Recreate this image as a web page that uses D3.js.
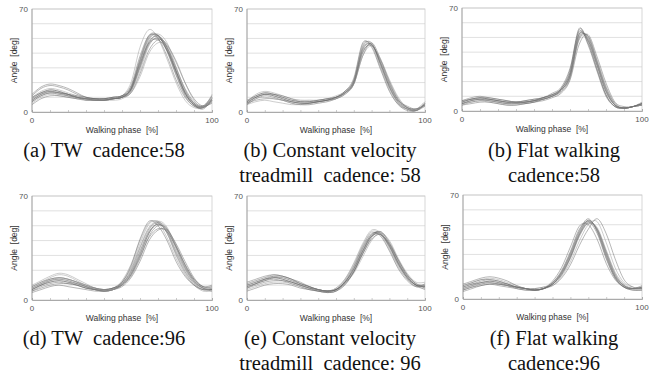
<!DOCTYPE html>
<html>
<head>
<meta charset="utf-8">
<script src="https://cdn.jsdelivr.net/npm/d3@7"></script>
<style>
  html, body { margin: 0; padding: 0; background: #fff; }
  svg { display: block; }
</style>
</head>
<body>
<div id="chart"></div>
<script>
// Walking phase samples [%]
const phase = [0, 5, 10, 15, 20, 25, 30, 35, 40, 45, 50, 55, 60, 65, 70, 75, 80, 85, 90, 95, 100];
const yTicks = [0, 70];
const xTicks = [0, 100];

// Knee angle [deg], one row per stride
const twCad58 = [
  [8, 12, 14, 13, 12, 10, 9, 8, 8, 9, 10, 15, 32, 48, 51, 42, 27, 13, 5, 3, 8],
  [9, 13, 15, 14, 12, 10, 9, 8, 8, 9, 11, 18, 38, 52, 50, 38, 22, 10, 4, 3, 9],
  [6, 10, 12, 11, 10, 9, 8, 8, 8, 9, 10, 14, 28, 45, 51, 45, 30, 15, 6, 3, 7],
  [11, 16, 18, 17, 15, 12, 10, 9, 9, 10, 11, 16, 34, 50, 52, 42, 26, 12, 5, 4, 10],
  [7, 11, 13, 12, 11, 10, 9, 9, 9, 10, 11, 15, 30, 46, 50, 44, 30, 16, 7, 4, 8],
  [10, 14, 16, 15, 13, 11, 9, 8, 8, 9, 11, 20, 44, 56, 50, 36, 20, 8, 3, 3, 10],
  [5, 9, 11, 11, 10, 9, 9, 9, 9, 9, 10, 13, 26, 42, 49, 46, 34, 20, 9, 4, 6],
  [8, 12, 14, 13, 11, 10, 8, 8, 8, 9, 10, 16, 35, 51, 52, 43, 28, 13, 5, 2, 8],
  [9, 13, 14, 13, 12, 10, 9, 8, 8, 9, 10, 13, 24, 40, 47, 45, 35, 20, 8, 3, 12],
  [12, 17, 19, 18, 16, 13, 10, 9, 8, 9, 10, 15, 31, 47, 52, 44, 28, 13, 5, 3, 9],
  [7, 11, 13, 13, 12, 11, 10, 9, 9, 10, 11, 17, 36, 52, 52, 41, 25, 11, 4, 3, 7],
  [8, 12, 13, 12, 11, 9, 8, 8, 8, 8, 9, 14, 31, 49, 53, 47, 31, 15, 6, 3, 9],
  [10, 13, 15, 14, 12, 10, 9, 8, 8, 9, 10, 16, 33, 47, 49, 42, 28, 14, 6, 4, 11]
];

const treadCad58 = [
  [6, 10, 12, 11, 9, 7, 6, 6, 7, 8, 10, 13, 20, 42, 46, 33, 18, 7, 2, 1, 5],
  [5, 9, 11, 10, 8, 6, 5, 6, 7, 8, 9, 13, 19, 38, 47, 36, 21, 9, 3, 1, 4],
  [7, 12, 14, 13, 11, 9, 7, 7, 8, 9, 11, 14, 22, 46, 45, 30, 15, 5, 2, 1, 6],
  [6, 8, 9, 9, 8, 7, 6, 6, 7, 8, 9, 12, 19, 40, 46, 34, 19, 8, 3, 2, 5],
  [8, 11, 13, 12, 10, 8, 7, 7, 8, 9, 10, 14, 23, 47, 44, 29, 14, 5, 1, 1, 6],
  [5, 7, 8, 7, 6, 5, 5, 5, 6, 7, 9, 12, 19, 38, 45, 36, 22, 10, 3, 2, 4],
  [7, 11, 13, 12, 10, 8, 7, 7, 7, 8, 10, 13, 21, 44, 47, 32, 17, 6, 2, 1, 5],
  [6, 10, 12, 12, 11, 9, 8, 8, 8, 9, 10, 13, 20, 41, 45, 35, 20, 8, 4, 2, 5],
  [5, 9, 10, 9, 8, 6, 5, 5, 6, 7, 9, 13, 21, 45, 46, 31, 16, 6, 2, 1, 6],
  [7, 10, 12, 11, 9, 7, 6, 6, 7, 8, 10, 14, 21, 43, 46, 33, 17, 7, 3, 2, 7]
];

const flatCad58 = [
  [5, 7, 8, 7, 6, 5, 5, 6, 7, 8, 10, 14, 24, 52, 49, 32, 14, 4, 2, 3, 4],
  [6, 8, 9, 8, 7, 6, 6, 6, 7, 9, 11, 15, 26, 55, 47, 29, 11, 3, 2, 3, 5],
  [4, 6, 7, 6, 5, 4, 4, 5, 6, 8, 10, 13, 22, 48, 51, 35, 17, 5, 2, 3, 4],
  [7, 9, 10, 9, 8, 7, 6, 7, 8, 9, 11, 15, 28, 56, 45, 27, 10, 3, 2, 3, 5],
  [5, 6, 7, 7, 6, 5, 5, 5, 6, 8, 10, 14, 23, 50, 50, 33, 15, 4, 2, 3, 5],
  [6, 8, 8, 8, 7, 6, 5, 6, 7, 9, 11, 14, 25, 53, 48, 31, 13, 4, 2, 3, 4],
  [4, 5, 6, 6, 5, 4, 4, 5, 6, 7, 9, 12, 21, 45, 52, 37, 19, 6, 3, 3, 4],
  [6, 8, 9, 8, 7, 6, 6, 7, 8, 9, 12, 16, 29, 54, 46, 28, 11, 3, 2, 3, 6],
  [5, 7, 8, 7, 6, 5, 5, 6, 7, 8, 10, 13, 23, 51, 49, 32, 14, 4, 2, 3, 4],
  [7, 8, 9, 9, 8, 7, 6, 6, 7, 9, 11, 15, 26, 52, 48, 31, 13, 4, 2, 3, 5],
  [5, 7, 8, 8, 7, 6, 6, 6, 7, 8, 10, 14, 24, 49, 51, 34, 16, 5, 2, 3, 5]
];

const twCad96 = [
  [7, 10, 13, 14, 13, 11, 9, 7, 6, 7, 11, 19, 33, 46, 51, 46, 33, 21, 12, 8, 7],
  [5, 7, 9, 10, 9, 8, 7, 6, 6, 7, 10, 16, 28, 43, 50, 48, 37, 24, 14, 9, 8],
  [9, 12, 15, 17, 16, 13, 10, 8, 7, 8, 13, 24, 40, 52, 52, 42, 28, 17, 10, 6, 6],
  [8, 11, 14, 15, 14, 12, 9, 7, 6, 7, 11, 20, 35, 48, 52, 45, 31, 19, 11, 7, 7],
  [6, 9, 11, 12, 11, 10, 8, 7, 6, 7, 9, 15, 26, 40, 47, 47, 38, 26, 15, 9, 9],
  [10, 13, 16, 18, 17, 14, 11, 8, 7, 8, 12, 22, 38, 51, 53, 45, 30, 18, 10, 7, 8],
  [7, 10, 12, 13, 12, 11, 9, 8, 7, 8, 11, 18, 31, 45, 51, 47, 35, 22, 13, 8, 7],
  [6, 8, 10, 11, 11, 10, 8, 7, 6, 7, 10, 17, 30, 45, 52, 48, 36, 23, 13, 8, 6],
  [8, 11, 13, 14, 13, 11, 9, 7, 6, 7, 12, 21, 36, 49, 53, 46, 32, 20, 11, 7, 8],
  [9, 12, 14, 15, 14, 12, 10, 8, 7, 8, 10, 17, 29, 42, 48, 46, 36, 24, 14, 9, 10],
  [7, 10, 12, 13, 12, 10, 8, 7, 7, 8, 12, 23, 41, 53, 50, 40, 26, 16, 10, 7, 7],
  [8, 11, 13, 15, 14, 12, 10, 8, 7, 7, 10, 18, 32, 47, 53, 49, 35, 22, 12, 8, 9]
];

const treadCad96 = [
  [10, 12, 14, 15, 14, 12, 10, 8, 7, 6, 7, 12, 21, 34, 44, 45, 36, 24, 15, 10, 9],
  [8, 10, 12, 13, 13, 11, 9, 7, 6, 5, 6, 11, 19, 31, 42, 46, 39, 27, 17, 11, 10],
  [11, 13, 15, 17, 16, 14, 11, 9, 7, 6, 8, 14, 24, 37, 46, 44, 34, 22, 14, 9, 8],
  [9, 11, 13, 14, 13, 12, 10, 8, 7, 6, 7, 12, 20, 33, 43, 44, 37, 25, 16, 10, 10],
  [12, 14, 16, 17, 16, 14, 12, 9, 7, 6, 7, 13, 23, 36, 45, 43, 33, 21, 13, 9, 11],
  [7, 9, 11, 12, 12, 11, 9, 7, 6, 5, 6, 11, 18, 29, 40, 45, 40, 28, 18, 12, 12],
  [10, 12, 14, 15, 15, 13, 11, 9, 7, 6, 7, 12, 22, 35, 44, 45, 37, 25, 15, 10, 9],
  [6, 8, 10, 11, 11, 10, 8, 7, 6, 5, 6, 10, 19, 32, 43, 46, 38, 26, 16, 10, 7],
  [11, 13, 15, 16, 15, 13, 10, 8, 7, 6, 8, 14, 25, 38, 47, 45, 35, 23, 14, 9, 10],
  [9, 11, 13, 15, 14, 12, 10, 8, 6, 6, 7, 12, 21, 33, 43, 44, 36, 24, 15, 10, 9],
  [8, 11, 14, 16, 16, 14, 11, 9, 7, 6, 7, 11, 19, 31, 41, 44, 38, 27, 17, 11, 8]
];

const flatCad96 = [
  [7, 9, 11, 12, 11, 9, 8, 7, 6, 7, 10, 17, 28, 43, 52, 47, 31, 16, 9, 7, 7],
  [8, 10, 12, 13, 12, 10, 8, 7, 6, 7, 11, 18, 30, 45, 53, 46, 29, 15, 9, 7, 8],
  [9, 11, 13, 14, 13, 11, 9, 7, 6, 7, 10, 16, 27, 42, 51, 48, 33, 18, 10, 7, 7],
  [6, 8, 10, 11, 10, 9, 7, 6, 6, 7, 10, 17, 29, 44, 53, 46, 30, 15, 8, 6, 6],
  [10, 12, 14, 15, 14, 12, 9, 7, 6, 7, 11, 19, 32, 47, 52, 44, 27, 14, 8, 7, 8],
  [7, 9, 11, 11, 10, 9, 8, 7, 6, 7, 9, 15, 25, 39, 50, 52, 38, 21, 11, 8, 7],
  [8, 10, 11, 12, 11, 10, 8, 7, 6, 7, 10, 16, 28, 43, 51, 47, 32, 17, 9, 7, 8],
  [5, 7, 9, 10, 9, 8, 7, 6, 6, 7, 10, 18, 31, 46, 54, 45, 28, 14, 8, 6, 6],
  [7, 9, 10, 11, 10, 9, 8, 7, 7, 8, 11, 18, 30, 44, 52, 47, 31, 16, 9, 7, 7],
  [6, 8, 9, 10, 10, 9, 8, 7, 7, 8, 9, 14, 23, 36, 47, 54, 44, 27, 13, 8, 7],
  [9, 11, 13, 13, 12, 10, 8, 7, 6, 7, 12, 21, 35, 49, 50, 40, 24, 13, 8, 7, 9]
];

// caption lines
const captionsTop = [
  ["(a) TW  cadence:58"],
  ["(b) Constant velocity", "treadmill  cadence: 58"],
  ["(b) Flat walking", "cadence:58"]
];
const captionsBottom = [
  ["(d) TW  cadence:96"],
  ["(e) Constant velocity", "treadmill  cadence: 96"],
  ["(f) Flat walking", "cadence:96"]
];

const W = 654, H = 375;

const svg = d3.select("#chart").append("svg")
  .attr("width", W)
  .attr("height", H);

// plot boxes [left, top, right, bottom] in px
const panels = [
  { data: twCad58, box: [32, 9, 212, 112], cap: captionsTop[0], capX: 104, capY: 157 },
  { data: treadCad58, box: [247, 9, 425, 112], cap: captionsTop[1], capX: 330, capY: 157 },
  { data: flatCad58, box: [462, 8, 642, 111], cap: captionsTop[2], capX: 554, capY: 157 },
  { data: twCad96, box: [32, 196, 212, 300], cap: captionsBottom[0], capX: 104, capY: 345 },
  { data: treadCad96, box: [247, 196, 425, 300], cap: captionsBottom[1], capX: 330, capY: 345 },
  { data: flatCad96, box: [463, 195, 642, 299], cap: captionsBottom[2], capX: 554, capY: 345 }
];

panels.forEach(p => {
  const [x0, y0, x1, y1] = p.box;
  const x = d3.scaleLinear().domain([0, 100]).range([x0, x1]);
  const y = d3.scaleLinear().domain([0, 70]).range([y1, y0]);
  const g = svg.append("g");

  // gridlines every 10 deg
  g.selectAll(".grid")
    .data(d3.range(10, 80, 10))
    .enter().append("line")
    .attr("x1", x0).attr("x2", x1)
    .attr("y1", d => y(d)).attr("y2", d => y(d))
    .style("stroke", "#d8d8d8")
    .style("stroke-width", 0.8);

  // frame
  g.append("rect")
    .attr("x", x0).attr("y", y0)
    .attr("width", x1 - x0).attr("height", y1 - y0)
    .style("fill", "none")
    .style("stroke", "#cccccc")
    .style("stroke-width", 0.8);

  // bottom axis with small ticks
  g.append("g")
    .attr("transform", "translate(0," + y1 + ")")
    .call(d3.axisTop(x).tickValues(d3.range(0, 101, 10)).tickSize(2).tickFormat(""))
    .call(a => a.select(".domain").style("stroke", "#999").style("stroke-width", 0.8))
    .call(a => a.selectAll("line").style("stroke", "#aaa").style("stroke-width", 0.6));

  // left axis line
  g.append("line")
    .attr("x1", x0).attr("x2", x0).attr("y1", y0).attr("y2", y1)
    .style("stroke", "#999").style("stroke-width", 0.8);

  // strides
  const line = d3.line()
    .x((d, i) => x(phase[i]))
    .y(d => y(d))
    .curve(d3.curveCatmullRom.alpha(0));

  g.selectAll(".stride")
    .data(p.data)
    .enter().append("path")
    .attr("d", line)
    .style("fill", "none")
    .style("stroke", (d, i) => i % 3 === 2 ? "#999" : "#6a6a6a")
    .style("stroke-opacity", 0.65)
    .style("stroke-width", 0.75);

  // tick labels
  g.selectAll(".ylab")
    .data(yTicks)
    .enter().append("text")
    .attr("x", x0 - 4)
    .attr("y", d => y(d) + 3)
    .attr("text-anchor", "end")
    .style("font-family", "'Liberation Sans', Arial, sans-serif")
    .style("font-size", "8px")
    .style("fill", "#555")
    .text(d => d);

  g.selectAll(".xlab")
    .data(xTicks)
    .enter().append("text")
    .attr("x", d => x(d))
    .attr("y", y1 + 11)
    .attr("text-anchor", "middle")
    .style("font-family", "'Liberation Sans', Arial, sans-serif")
    .style("font-size", "8px")
    .style("fill", "#555")
    .text(d => d);

  g.append("text")
    .attr("x", (x0 + x1) / 2)
    .attr("y", y1 + 21)
    .attr("text-anchor", "middle")
    .style("font-family", "'Liberation Sans', Arial, sans-serif")
    .style("font-size", "8.5px")
    .style("fill", "#333")
    .style("white-space", "pre")
    .text("Walking phase  [%]");

  g.append("text")
    .attr("transform", "translate(" + (x0 - 15) + "," + ((y0 + y1) / 2) + ") rotate(-90)")
    .attr("text-anchor", "middle")
    .style("font-family", "'Liberation Sans', Arial, sans-serif")
    .style("font-size", "8.5px")
    .style("fill", "#333")
    .style("white-space", "pre")
    .text("Angle  [deg]");

  // caption
  g.selectAll(".cap")
    .data(p.cap)
    .enter().append("text")
    .attr("x", p.capX)
    .attr("y", (d, i) => p.capY + i * 25)
    .attr("text-anchor", "middle")
    .style("font-family", "'Liberation Serif', 'Times New Roman', serif")
    .style("font-size", "20.5px")
    .style("fill", "#111")
    .style("white-space", "pre")
    .text(d => d);
});
</script>
</body>
</html>
